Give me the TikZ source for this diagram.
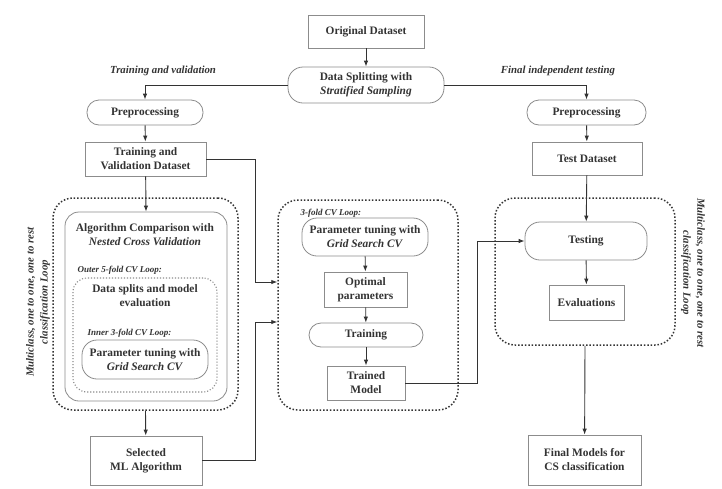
\documentclass[tikz,border=0pt]{standalone}
\usepackage{fontspec}
\setmainfont{Liberation Serif}
\usepackage{xcolor}
\usetikzlibrary{arrows.meta}

\definecolor{boxline}{gray}{0.55}
\definecolor{inkgray}{gray}{0.2}

\tikzset{
  box/.style={draw=boxline, line width=0.8pt, fill=white, align=center, inner sep=0pt},
  pill/.style={box, rounded corners=12pt},
  loopbox/.style={draw=inkgray, line width=1.5pt, dash pattern=on 1.5pt off 1.9pt, rounded corners=20pt, inner sep=0pt},
  tag/.style={font=\fontsize{10.8}{14}\selectfont\bfseries\itshape, align=center, text=inkgray},
  small/.style={font=\fontsize{9}{11}\selectfont\bfseries\itshape, text=inkgray, anchor=west},
  arr/.style={->, draw=inkgray, line width=0.9pt}
}

\begin{document}
\begin{tikzpicture}[x=1pt,y=-1pt,>={Latex[length=6pt,width=4.5pt]},
  font=\fontsize{11.4}{14}\selectfont\bfseries, text=inkgray]
\useasboundingbox[fill=white] (0,0) rectangle (722,488);

% top
\node[box, minimum width=116pt, minimum height=33pt] (orig) at (366,31.5) {Original Dataset};
\node[pill, rounded corners=15pt, minimum width=156pt, minimum height=36pt] (split) at (366,85)
  {Data Splitting with\\\textit{Stratified Sampling}};
\node[tag] (tvtag) at (163,71) {Training and validation};
\node[tag] (testtag) at (558,71) {Final independent testing};

% left branch
\node[pill, minimum width=116pt, minimum height=25pt] (preL) at (145,112.5) {Preprocessing};
\node[box, minimum width=121pt, minimum height=34pt] (tvd) at (145.5,159) {Training and\\Validation Dataset};

\node[loopbox, minimum width=185pt, minimum height=212pt] (leftloop) at (145.5,304) {};
\node[box, rounded corners=14pt, minimum width=162pt, minimum height=189pt] (algo) at (146,306.5) {};
\node (algotxt) at (145,235) [align=center] {Algorithm Comparison with\\\textit{Nested Cross Validation}};
\node[small] (outertag) at (74,270) {Outer 5-fold CV Loop:};
\node[loopbox, line width=1.1pt, dash pattern=on 1.1pt off 1.9pt, draw=boxline, rounded corners=14pt,
  minimum width=144pt, minimum height=114pt] (outer) at (145,335) {};
\node (splittxt) at (145,296) [align=center] {Data splits and model\\evaluation};
\node[small] (innertag) at (84,333) {Inner 3-fold CV Loop:};
\node[pill, rounded corners=15pt, minimum width=126pt, minimum height=39pt] (gridL) at (145,359.5)
  {Parameter tuning with\\\textit{Grid Search CV}};
\node[box, minimum width=112pt, minimum height=49pt] (sel) at (146,460.5) {Selected\\ML Algorithm};

\node[tag, rotate=90] (lefttag) at (38,302) {Multiclass, one to one, one to rest\\classification Loop};

% middle loop
\node[loopbox, minimum width=180pt, minimum height=210pt] (midloop) at (368,305) {};
\node[small] (cvtag) at (297,213) {3-fold CV Loop:};
\node[pill, rounded corners=15pt, minimum width=126pt, minimum height=38pt] (gridM) at (365,237)
  {Parameter tuning with\\\textit{Grid Search CV}};
\node[box, minimum width=83pt, minimum height=35pt] (opt) at (365.5,289.5) {Optimal\\parameters};
\node[pill, minimum width=114pt, minimum height=24pt] (train) at (366,335) {Training};
\node[box, minimum width=78pt, minimum height=34pt] (trained) at (366,383) {Trained\\Model};

% right branch
\node[pill, minimum width=119pt, minimum height=25pt] (preR) at (586.5,112.5) {Preprocessing};
\node[box, minimum width=110pt, minimum height=33pt] (testd) at (587,158.5) {Test Dataset};
\node[loopbox, minimum width=180pt, minimum height=147pt] (rightloop) at (585,271.5) {};
\node[pill, rounded corners=15pt, minimum width=122pt, minimum height=38pt] (testing) at (586,241) {Testing};
\node[box, minimum width=75pt, minimum height=35pt] (eval) at (586.5,302.5) {Evaluations};
\node[box, minimum width=113pt, minimum height=50pt] (final) at (584.5,460) {Final Models for\\CS classification};

\node[tag, rotate=-90] (righttag) at (693,273) {Multiclass, one to one, one to rest\\classification Loop};

% connectors
\coordinate (bendA) at (255,282);
\coordinate (bendB) at (255,322);
\coordinate (bendC) at (477,241);

\draw[arr] (orig) -- (split);
\draw[arr] (split.west) -| (preL.north);
\draw[arr] (split.east) -| (preR.north);
\draw[arr] (preL) -- (tvd);
\draw[arr] (tvd) -- (algo.north);
\draw[arr] (leftloop.south) -- (sel);
\draw[arr] (tvd.east) -| (bendA) -- (bendA -| midloop.west);
\draw[arr] (sel.east) -| (bendB) -- (bendB -| midloop.west);
\draw[arr] (gridM) -- (opt);
\draw[arr] (opt) -- (train);
\draw[arr] (train) -- (trained);
\draw[arr] (trained.east) -| (bendC) -- (testing.west);
\draw[arr] (preR) -- (testd);
\draw[arr] (testd) -- (testing);
\draw[arr] (testing) -- (eval);
\draw[arr] (rightloop.south) -- (final);
\end{tikzpicture}
\end{document}
